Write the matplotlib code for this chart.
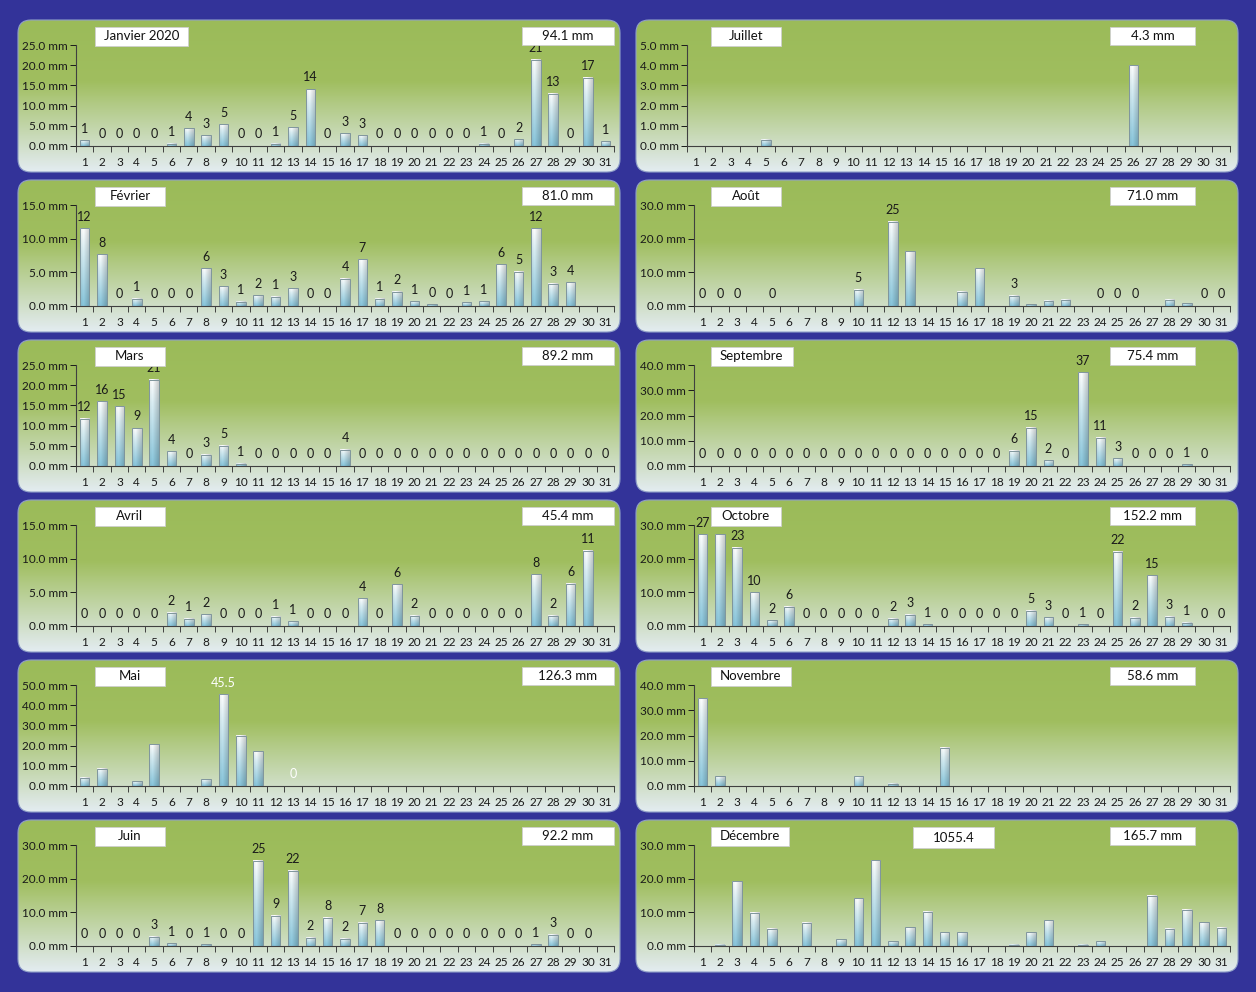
import numpy as np
import matplotlib.pyplot as plt
from matplotlib.patches import FancyBboxPatch, Rectangle
from matplotlib.colors import LinearSegmentedColormap

plt.rcParams['font.family'] = ['Lato', 'DejaVu Sans']

# ---------------------------------------------------------------- data
months = ["Janvier 2020", "Février", "Mars", "Avril", "Mai", "Juin",
          "Juillet", "Août", "Septembre", "Octobre", "Novembre", "Décembre"]
days = np.arange(1, 32)

jan = [1.4, 0, 0, 0, 0, 0.6, 4.4, 2.6, 5.4, 0, 0, 0.6, 4.6, 14.1, 0, 3.2, 2.7,
       0, 0, 0, 0, 0, 0, 0.6, 0, 1.7, 21.4, 12.9, 0, 16.9, 1.2]
feb = [11.55, 7.7, 0, 1.05, 0, 0, 0, 5.6, 2.9, 0.6, 1.6, 1.35, 2.6, 0, 0, 4.05, 6.95,
       1.05, 2.1, 0.7, 0.25, 0, 0.55, 0.7, 6.2, 5.1, 11.55, 3.3, 3.55, 0, 0]
mar = [11.7, 16.0, 14.8, 9.4, 21.3, 3.6, 0, 2.8, 5.0, 0.6, 0, 0, 0, 0, 0, 4.0,
       0, 0, 0, 0, 0, 0, 0, 0, 0, 0, 0, 0, 0, 0, 0]
apr = [0, 0, 0, 0, 0, 1.95, 1.05, 1.75, 0, 0, 0, 1.35, 0.7, 0, 0, 0, 4.1, 0, 6.2,
       1.55, 0, 0, 0, 0, 0, 0, 7.7, 1.55, 6.3, 11.2, 0]
may = [4.2, 8.5, 0, 2.3, 20.6, 0, 0, 3.3, 45.5, 24.8, 17.1, 0, 0, 0, 0, 0,
       0, 0, 0, 0, 0, 0, 0, 0, 0, 0, 0, 0, 0, 0, 0]
jun = [0, 0, 0, 0, 2.7, 0.8, 0, 0.55, 0, 0, 25.3, 9.0, 22.4, 2.4, 8.4, 2.2, 6.9,
       7.6, 0, 0, 0, 0, 0, 0, 0, 0, 0.55, 3.3, 0, 0, 0]
jul = [0, 0, 0, 0, 0.3, 0, 0, 0, 0, 0, 0, 0, 0, 0, 0, 0, 0, 0, 0, 0, 0, 0, 0,
       0, 0, 4.0, 0, 0, 0, 0, 0]
aug = [0, 0, 0, 0, 0, 0, 0, 0, 0, 4.9, 0, 25.0, 16.2, 0, 0, 4.3, 11.2, 0, 3.0,
       0.5, 1.5, 1.8, 0, 0, 0, 0, 0, 1.8, 0.8, 0, 0]
sep = [0, 0, 0, 0, 0, 0, 0, 0, 0, 0, 0, 0, 0, 0, 0, 0, 0, 0, 6.0, 15.1, 2.3, 0,
       37.1, 11.2, 3.1, 0, 0, 0, 0.6, 0, 0]
oct_ = [27.3, 27.3, 23.2, 10.0, 1.7, 5.7, 0, 0, 0, 0, 0, 2.1, 3.4, 0.55, 0, 0, 0,
        0, 0, 4.6, 2.6, 0, 0.55, 0, 22.1, 2.4, 15.1, 2.7, 0.9, 0, 0]
nov = [34.7, 3.9, 0, 0, 0, 0, 0, 0, 0, 3.9, 0, 0.9, 0, 0, 15.2, 0, 0, 0, 0, 0,
       0, 0, 0, 0, 0, 0, 0, 0, 0, 0, 0]
dec = [0, 0.4, 19.2, 9.9, 5.1, 0, 6.9, 0, 2.0, 14.2, 25.5, 1.4, 5.6, 10.1, 4.1,
       4.1, 0, 0, 0.4, 4.1, 7.6, 0, 0.4, 1.4, 0, 0, 15.0, 5.1, 10.7, 7.1, 5.4]
rain = [jan, feb, mar, apr, may, jun, jul, aug, sep, oct_, nov, dec]

totals = [94.1, 81.0, 89.2, 45.4, 126.3, 92.2, 4.3, 71.0, 75.4, 152.2, 58.6, 165.7]
y_max = [25, 15, 25, 15, 50, 30, 5, 30, 40, 30, 40, 30]
y_step = [5, 5, 5, 5, 10, 10, 1, 10, 10, 10, 10, 10]

all_days = list(range(1, 32))
label_days = [all_days, all_days[:29], all_days, all_days[:30], [9, 13], all_days[:30],
              [], [1, 2, 3, 5, 10, 12, 19, 24, 25, 26, 30, 31], all_days[:30],
              [1] + all_days[2:], [], []]
label_fmt = ['{:.0f}'] * 12
label_fmt[4] = '{:g}'
label_color = ['#1a1a1a'] * 12
label_color[4] = 'white'

# ---------------------------------------------------------------- layout
W, H = 1256, 992
panel_x = [18, 636]
panel_y0, panel_step = 20, 160
panel_w, panel_h = 602, 152

fig = plt.figure(figsize=(W / 100, H / 100), dpi=100)
fig.patch.set_facecolor('#333399')

bg = fig.add_axes([0, 0, 1, 1], zorder=0)
bg.set_xlim(0, W)
bg.set_ylim(H, 0)
bg.axis('off')

top = fig.add_axes([0, 0, 1, 1], zorder=5)
top.set_xlim(0, W)
top.set_ylim(H, 0)
top.axis('off')
top.patch.set_alpha(0)

panel_cmap = LinearSegmentedColormap.from_list(
    'panel', [(0, '#9BBB59'), (0.40, '#A0BE5F'), (1, '#E3ECF1')])
grad = np.linspace(0, 1, 128).reshape(-1, 1)

# bar fill: white top fading to light blue, darker on the right side (cylinder look)
bar_cmap = LinearSegmentedColormap.from_list(
    'bar', [(0, '#FFFFFF'), (0.25, '#DDF0F5'), (1, '#88C6DC')])
vert = bar_cmap(np.linspace(0, 1, 64))[:, :3]
horiz = np.interp(np.linspace(0, 1, 16), [0, 0.35, 1], [0.93, 1.0, 0.80])
bar_img = np.clip(vert[:, None, :] * horiz[None, :, None], 0, 1)

renderer = fig.canvas.get_renderer()

for i, vals in enumerate(rain):
    col, row = divmod(i, 6)
    px = panel_x[col]
    py = panel_y0 + row * panel_step

    # panel background
    patch = FancyBboxPatch((px, py), panel_w, panel_h,
                           boxstyle='round,pad=0,rounding_size=13',
                           fc='none', ec='#8f9fc8', lw=0.8, zorder=1)
    bg.add_patch(patch)
    im = bg.imshow(grad, cmap=panel_cmap, extent=(px, px + panel_w, py + panel_h, py),
                   origin='upper', aspect='auto', zorder=0.5)
    im.set_clip_path(patch)

    # chart axes
    ax_l = px + (58 if y_max[i] >= 10 else 51)
    ax_r = px + (596 if col == 0 else 594)
    ax_t, ax_b = py + 25, py + 126
    ax = fig.add_axes([ax_l / W, 1 - ax_b / H, (ax_r - ax_l) / W, (ax_b - ax_t) / H], zorder=2)
    ax.patch.set_alpha(0)

    bars = ax.bar(days, vals, width=0.55, color='none', edgecolor='#7f959c',
                  linewidth=0.7, zorder=3)
    for rect in bars:
        h = rect.get_height()
        if h > 0:
            x0 = rect.get_x()
            ax.imshow(bar_img, extent=(x0, x0 + rect.get_width(), 0, h),
                      origin='upper', aspect='auto', zorder=2)

    labels = [label_fmt[i].format(v) if d in label_days[i] else ''
              for d, v in zip(days, vals)]
    ax.bar_label(bars, labels=labels, padding=4, fontsize=9, color=label_color[i])

    ax.set_xlim(0.5, 31.5)
    ax.set_ylim(0, y_max[i])
    ax.set_yticks(np.arange(0, y_max[i] + 0.01, y_step[i]))
    ax.set_yticklabels([f"{v:.1f} mm" for v in ax.get_yticks()])
    ax.set_xticks(days)
    ax.set_xticks(np.arange(0.5, 32, 1), minor=True)
    ax.tick_params(axis='x', which='major', length=0, pad=8, labelsize=8.5, colors='#1a1a1a')
    ax.tick_params(axis='x', which='minor', length=4, width=0.7, color='#404040')
    ax.tick_params(axis='y', length=4, width=0.7, pad=2, labelsize=8.5,
                   colors='#1a1a1a')
    for s in ['top', 'right']:
        ax.spines[s].set_visible(False)
    for s in ['left', 'bottom']:
        ax.spines[s].set_color('#404040')
        ax.spines[s].set_linewidth(0.8)

    # month name box
    bx = px + (77 if col == 0 else 75)
    by = py + 7
    t = top.text(0, 0, months[i], fontsize=9.5, color='#111111', va='center', ha='center',
                 zorder=6)
    tw = t.get_window_extent(renderer).width
    bw = max(70, tw + 18)
    top.add_patch(Rectangle((bx, by), bw, 19, fc='white', ec='#cfcfcf', lw=0.6, zorder=5))
    t.set_position((bx + bw / 2, by + 9.5))

    # monthly total box
    tx = px + (504 if col == 0 else 474)
    tw2 = 92 if col == 0 else 85
    top.add_patch(Rectangle((tx, by), tw2, 18, fc='white', ec='#cfcfcf', lw=0.6, zorder=5))
    top.text(tx + tw2 / 2, by + 9, f"{totals[i]:.1f} mm", fontsize=9.5, color='#111111',
             ha='center', va='center', zorder=6)

    # yearly total in the last panel
    if i == 11:
        ax_ = px + 277
        top.add_patch(Rectangle((ax_, by), 81, 21, fc='white', ec='#cfcfcf', lw=0.6, zorder=5))
        top.text(ax_ + 40.5, by + 11, f"{sum(totals):.1f}", fontsize=9.5, color='#111111',
                 ha='center', va='center', zorder=6)

fig.savefig('out.png', dpi=100, facecolor=fig.get_facecolor())
